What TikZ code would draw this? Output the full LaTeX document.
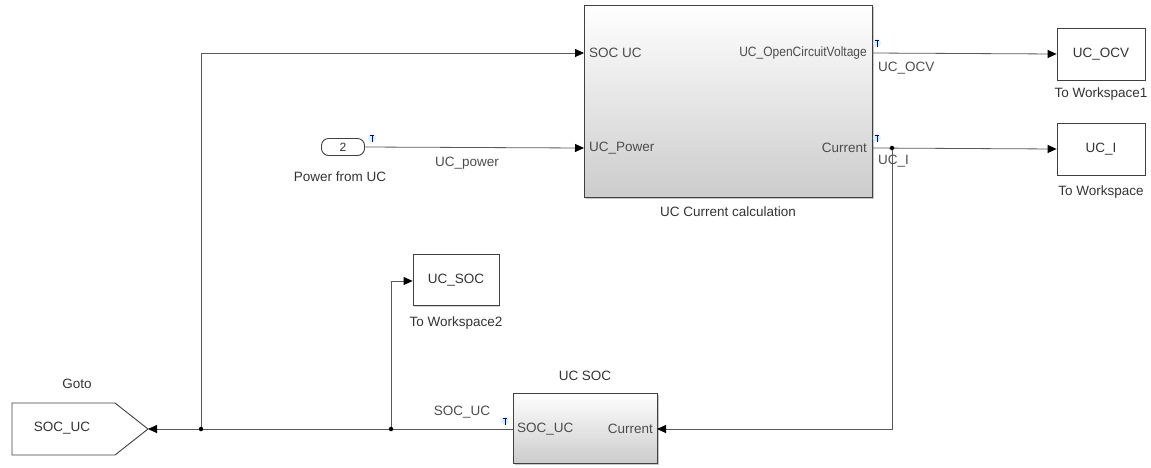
\documentclass[tikz,border=0pt]{standalone}
\usepackage{fontspec}
\setmainfont{Liberation Sans}
\usetikzlibrary{arrows.meta,shadows}
\begin{document}
\begin{tikzpicture}[x=1pt,y=-1pt,
  every node/.style={inner sep=0pt, text=black!80},
  lbl/.style={font=\fontsize{13.5}{15}\selectfont},
  plbl/.style={font=\fontsize{13.5}{15}\selectfont, text=black!70},
  wire/.style={draw=black!65, line width=0.8pt},
  arr/.style={wire, -{Triangle[length=9pt,width=8pt,color=black]}},
  subsys/.style={draw=black!75, line width=0.9pt, top color=white, bottom color=black!20,
     drop shadow={shadow xshift=1.5pt, shadow yshift=-1.5pt, opacity=0.45}},
  wsbox/.style={draw=black!75, line width=0.8pt, fill=white,
     drop shadow={shadow xshift=1pt, shadow yshift=-1pt, opacity=0.35},
     minimum width=88pt, minimum height=52pt, font=\fontsize{13.5}{15}\selectfont, text=black!80},
  dot/.style={circle, fill=black, minimum size=4.5pt, inner sep=0pt}
]
\useasboundingbox (0,0) rectangle (1151,467);

% main subsystem
\node[subsys, minimum width=288pt, minimum height=192pt] (calc) at (728,101) {};
\node[lbl] (calcname) at (728,212) {UC Current calculation};
\coordinate (calcin1) at (584,53);
\coordinate (calcin2) at (584,148);
\coordinate (calcout1) at (872,53);
\coordinate (calcout2) at (872,148);
\node[plbl, anchor=west] (pin1) at (589,53) {SOC UC};
\node[plbl, anchor=west] (pin2) at (589,148) {UC\_Power};
\node[plbl, anchor=east, xscale=0.89] (pout1) at (867,53) {UC\_OpenCircuitVoltage};
\node[plbl, anchor=east] (pout2) at (867,148) {Current};

% UC SOC subsystem
\node[subsys, minimum width=144pt, minimum height=70pt] (soc) at (585,428) {};
\node[lbl] (socname) at (585,376) {UC SOC};
\coordinate (socout) at (513,429);
\coordinate (socin) at (657,429);
\node[plbl, anchor=west] (spin) at (517,429) {SOC\_UC};
\node[plbl, anchor=east] (spout) at (653,429) {Current};

% To Workspace blocks
\node[wsbox] (ocv) at (1101,54) {UC\_OCV};
\node[lbl] (ocvname) at (1101,94) {To Workspace1};
\node[wsbox] (ucI) at (1101,149) {UC\_I};
\node[lbl] (ucIname) at (1101,192) {To Workspace};
\node[wsbox, minimum width=86pt, minimum height=51pt] (ucsoc) at (456,280) {UC\_SOC};
\node[lbl] (ucsocname) at (456,323) {To Workspace2};

% Inport 2
\node[draw=black!75, line width=0.9pt, rounded corners=7pt, minimum width=43pt, minimum height=17pt,
      fill=white, font=\fontsize{12}{13}\selectfont] (inp) at (343,147) {2};
\node[lbl] (inpname) at (340,177) {Power from UC};

% Goto block
\draw[draw=black!75, line width=0.9pt, fill=white] (12,403) -- (115,403) -- (148,429) -- (115,455) -- (12,455) -- cycle;
\coordinate (gototip) at (148,429);
\node[lbl] (gotoname) at (77,384) {Goto};
\node[lbl] (gototext) at (62,428) {SOC\_UC};

% junctions
\coordinate (j1) at (201,429);
\coordinate (j2) at (391,429);
\coordinate (j3) at (892,148);

% wires
\draw[arr] (inp.east) -- (calcin2);
\draw[arr] (calcout1) -- (ocv.west);
\draw[arr] (calcout2) -- (ucI.west);
\draw[arr] (j3) -- (892,429) -- (socin);
\draw[arr] (socout) -- (gototip);
\draw[arr] (j1) -- (201,53) -- (calcin1);
\draw[arr] (j2) -- (391,281) -- (ucsoc.west |- 0,281);
\node[dot] at (j1) {};
\node[dot] at (j2) {};
\node[dot] at (j3) {};

% signal labels
\node[plbl] (l1) at (467,163) {UC\_power};
\node[plbl, anchor=west] (l2) at (878,68) {UC\_OCV};
\node[plbl, anchor=west] (l3) at (878,161) {UC\_I};
\node[plbl] (l4) at (462,412) {SOC\_UC};

% logging markers
\foreach \mx/\my in {877/43, 877/138, 372/138, 505/421}{
  \fill[cyan!15] (\mx,\my) circle (4pt);
  \draw[blue!60!black, line width=0.7pt] (\mx-2,\my-3) -- (\mx+2,\my-3) (\mx,\my-3) -- (\mx,\my+4);
}
\end{tikzpicture}
\end{document}
